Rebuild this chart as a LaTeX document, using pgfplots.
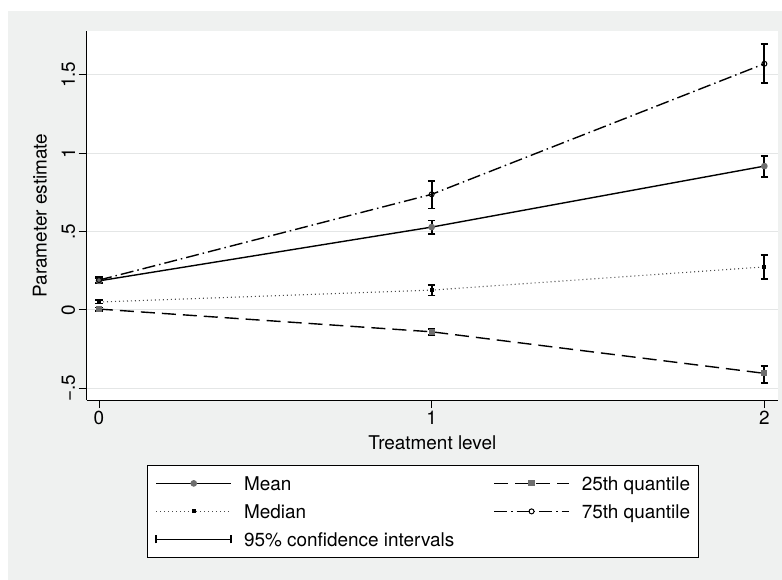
\documentclass[border=0pt]{standalone}
\usepackage{fontspec}
\setmainfont{TeX Gyre Heros}
\usepackage{pgfplots}
\usepackage{pgfplotstable}
\pgfplotsset{compat=1.18}
\definecolor{bggray}{RGB}{239,241,240}
\definecolor{gridgray}{RGB}{228,230,230}
\definecolor{markgray}{RGB}{110,110,110}

\pgfplotstableread{
x y ep em
0 0.185 0.017 0.017
1 0.528 0.042 0.045
2 0.917 0.066 0.070
}\meantable
\pgfplotstableread{
x y ep em
0 0.050 0.012 0.010
1 0.126 0.032 0.034
2 0.274 0.075 0.076
}\mediantable
\pgfplotstableread{
x y ep em
0 0.005 0.010 0.010
1 -0.140 0.018 0.018
2 -0.405 0.045 0.061
}\qlowtable
\pgfplotstableread{
x y ep em
0 0.190 0.020 0.020
1 0.737 0.086 0.090
2 1.570 0.126 0.125
}\qhightable

\begin{document}
\begin{tikzpicture}[font=\fontsize{19}{23}\selectfont]
\useasboundingbox (0bp,0bp) rectangle (782bp,580bp);
\fill[bggray] (8bp,0bp) rectangle (782bp,569bp);
\begin{axis}[
  at={(86.7bp,180bp)}, anchor=south west,
  scale only axis, width=691.3bp, height=369bp,
  xmin=-0.037, xmax=2.041, ymin=-0.575, ymax=1.779,
  axis x line*=bottom, axis y line*=left,
  axis line style={-, black, line width=1bp},
  axis background/.style={fill=white},
  tick align=outside,
  major tick length=8bp,
  tick style={black, line width=1bp},
  xtick={0,1,2}, xticklabels={0,1,2},
  ytick={-0.5,0,0.5,1,1.5}, yticklabels={−.5,0,.5,1,1.5},
  yticklabel style={rotate=90, anchor=south},
  ymajorgrids, grid style={gridgray, line width=1.2bp},
  xlabel={Treatment level}, ylabel={Parameter estimate},
  xlabel style={at={(axis description cs:0.5,-0.1165)}, anchor=center},
  ylabel style={at={(axis description cs:-0.0676,0.5)}, anchor=center, rotate=0},
  legend columns=2,
  legend cell align=left,
  legend style={at={(axis description cs:0.0872,-0.176)}, anchor=north west,
    draw=black, line width=0.9bp, fill=white,
    inner xsep=8bp, inner ysep=8bp, row sep=8bp,
    nodes={inner xsep=0pt, inner ysep=0pt, text height=17bp, text depth=3bp},
    /tikz/every even column/.append style={column sep=39bp},
    /tikz/every odd column/.append style={column sep=12bp}},
  legend image code/.code={
    \draw[mark repeat=2,mark phase=2,#1] plot coordinates {(0bp,0bp) (37.5bp,0bp) (75bp,0bp)};
  },
  error bars/y dir=both, error bars/y explicit,
  error bars/error mark=|,
  error bars/error mark options={black, line width=1.8bp, mark size=3.8bp, solid},
  error bars/error bar style={black, line width=1.8bp, solid},
]
\addplot[black, line width=1.4bp, mark=*, mark size=2.6bp,
  mark options={solid, fill=markgray, draw=markgray}]
  table[x=x, y=y, y error plus=ep, y error minus=em] {\meantable};
\addlegendentry{Mean}
\addplot[black, line width=1.4bp, dash pattern=on 14bp off 7bp, mark=square*, mark size=2.4bp,
  mark options={solid, fill=markgray, draw=markgray}]
  table[x=x, y=y, y error plus=ep, y error minus=em] {\qlowtable};
\addlegendentry{25th quantile}
\addplot[black!70, line width=1.1bp, dash pattern=on 1bp off 3bp, mark=square*, mark size=1.5bp,
  mark options={solid, fill=black, draw=black}]
  table[x=x, y=y, y error plus=ep, y error minus=em] {\mediantable};
\addlegendentry{Median}
\addplot[black, line width=1.4bp, dash pattern=on 13bp off 4bp on 1.5bp off 4bp, mark=o, mark size=2.5bp,
  mark options={solid, fill=white, draw=black, line width=1bp}]
  table[x=x, y=y, y error plus=ep, y error minus=em] {\qhightable};
\addlegendentry{75th quantile}
\addlegendimage{legend image code/.code={
  \draw[black, line width=1.6bp] (0bp,0bp) -- (75bp,0bp);
  \draw[black, line width=1.6bp] (0bp,-4bp) -- (0bp,4bp) (75bp,-4bp) -- (75bp,4bp);}}
\addlegendentry{95\% confidence intervals}
\end{axis}
\end{tikzpicture}
\end{document}
